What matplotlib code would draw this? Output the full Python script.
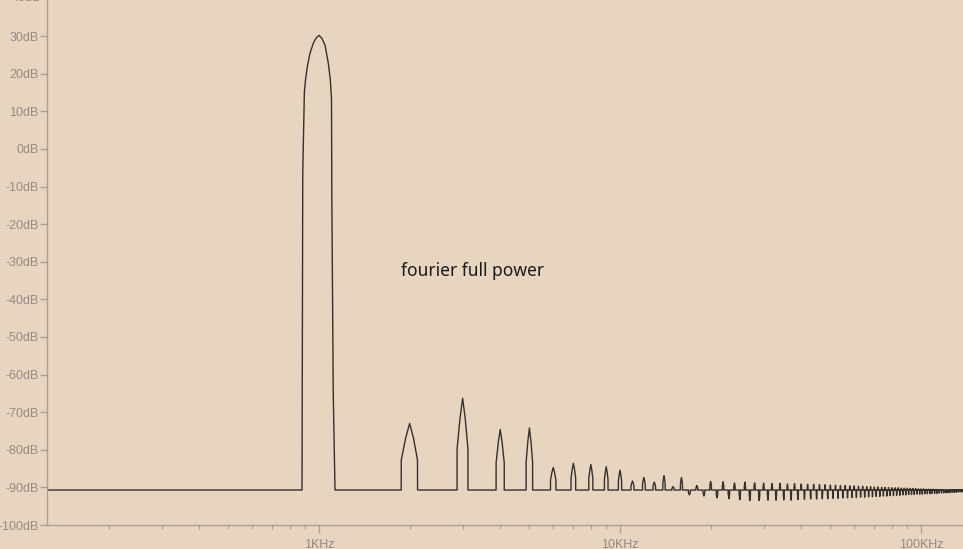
import numpy as np
import matplotlib.pyplot as plt
from matplotlib.ticker import FixedLocator, NullFormatter

# noise floor of the spectrum (dB)
floor_db = -90.7

# fundamental at 1 kHz, traced point by point
main_hz = [878, 879, 883, 894, 903, 915, 933, 957, 978, 1000, 1022, 1047, 1074, 1090, 1100, 1103, 1115, 1130]
main_db = [-90.7, -73.8, -6.4, 15.2, 18.8, 22.0, 25.4, 28.1, 29.5, 30.2, 29.4, 27.6, 22.7, 18.5, 13.4, -13.6, -65.0, -90.7]

# harmonics 2..138 kHz: peak (above floor) or dip (below floor) level in dB
harm_db = [
    -73.0, -66.3, -74.6, -74.2, -84.7, -83.6, -83.9, -84.5, -85.4,        # 2-10
    -88.3, -87.4, -88.6, -86.9, -89.8, -87.4,                              # 11-16
    -92.0, -89.5, -92.3, -88.4, -92.8, -88.5, -93.0, -88.8, -93.3, -88.6,  # 17-26
    -93.5, -88.8, -93.5, -88.9, -93.4, -89.0, -93.4, -88.9, -93.3, -89.1,  # 27-36
    -93.4, -89.0, -93.2, -89.1, -93.2, -89.2, -93.1, -89.2, -93.1, -89.3,  # 37-46
    -93.0, -89.3, -93.0, -89.4, -92.9, -89.4, -92.9, -89.5, -92.8, -89.5,  # 47-56
    -92.8, -89.6, -92.7, -89.6, -92.7, -89.7, -92.6, -89.7, -92.6, -89.8,  # 57-66
    -92.5, -89.8, -92.5, -89.9, -92.4, -89.9, -92.4, -90.0, -92.3, -90.0,  # 67-76
    -92.3, -90.0, -92.2, -90.1, -92.2, -90.1, -92.1, -90.1, -92.1, -90.2,  # 77-86
    -92.0, -90.2, -92.0, -90.2, -91.9, -90.3, -91.9, -90.3, -91.9, -90.3,  # 87-96
    -91.8, -90.4, -91.8, -90.4, -91.8, -90.4, -91.7, -90.5, -91.7, -90.5,  # 97-106
    -91.7, -90.5, -91.6, -90.5, -91.6, -90.6, -91.6, -90.6, -91.5, -90.6,  # 107-116
    -91.5, -90.6, -91.5, -90.7, -91.4, -90.7, -91.4, -90.7, -91.4, -90.8,  # 117-126
    -91.3, -90.8, -91.3, -90.8, -91.3, -90.9, -91.2, -90.9, -91.2, -90.9,  # 127-136
    -91.2, -91.0,                                                          # 137-138
]
harm_n = list(range(2, 2 + len(harm_db)))

y_ticks = [-100, -90, -80, -70, -60, -50, -40, -30, -20, -10, 0, 10, 20, 30]
x_ticks = [1e3, 1e4, 1e5]
x_labels = ['1KHz', '10KHz', '100KHz']

# shape of one harmonic bump (offset in Hz, fraction of its height)
bump_off = [-125, -124, -60, 0, 60, 124, 125]
bump_frac = [0, 0.45, 0.78, 1, 0.78, 0.45, 0]

bg = '#E8D5C0'
axis_col = '#ABA093'
label_col = '#948C83'
tick_font = ['Liberation Sans Narrow', 'Liberation Sans', 'DejaVu Sans']

# build the trace
f = [124.0]
db = [floor_db]
f += main_hz
db += main_db
for n, level in zip(harm_n, harm_db):
    for off, frac in zip(bump_off, bump_frac):
        f.append(n * 1000 + off)
        db.append(floor_db + frac * (level - floor_db))
f.append(140000)
db.append(floor_db)

fig = plt.figure(figsize=(9.63, 5.49), dpi=100, facecolor=bg)
ax = fig.add_axes([47 / 963, 24 / 549, 1 - 47 / 963, 1 - 24 / 549])
ax.set_facecolor(bg)

ax.plot(f, db, color='#35302B', linewidth=1.0)

ax.set_xscale('log')
ax.set_xlim(124.8, 137900)
ax.set_ylim(-100, 39.6)

for s in ['top', 'right']:
    ax.spines[s].set_visible(False)
for s in ['left', 'bottom']:
    ax.spines[s].set_color(axis_col)
    ax.spines[s].set_linewidth(1.0)

ax.xaxis.set_major_locator(FixedLocator(x_ticks))
ax.set_xticklabels(x_labels)
minor = [m * d for d in [100, 1000, 10000] for m in range(2, 10)]
ax.xaxis.set_minor_locator(FixedLocator(minor))
ax.xaxis.set_minor_formatter(NullFormatter())
ax.set_yticks(y_ticks)
ax.set_yticklabels([f'{v}dB' for v in y_ticks])

ax.tick_params(axis='x', which='major', length=6, width=1, color=axis_col,
               labelcolor=label_col, labelsize=9, pad=4)
ax.tick_params(axis='x', which='minor', length=3, width=1, color=axis_col)
ax.tick_params(axis='y', length=5, width=1, color=axis_col,
               labelcolor=label_col, labelsize=9, pad=1)
for lab in ax.get_xticklabels() + ax.get_yticklabels():
    lab.set_family(tick_font)

# 40dB label, cut by the top edge as in the original
ax.text(-0.006, 40, '40dB', transform=ax.get_yaxis_transform(), ha='right', va='center',
        color=label_col, fontsize=9, clip_on=False, family=tick_font)

ax.text(1873, -32.5, 'fourier full power', ha='left', va='center', fontsize=12.5,
        color='#1A1A1A', family=['Noto Sans', 'DejaVu Sans'])

fig.savefig('out.png', dpi=100, facecolor=bg)
